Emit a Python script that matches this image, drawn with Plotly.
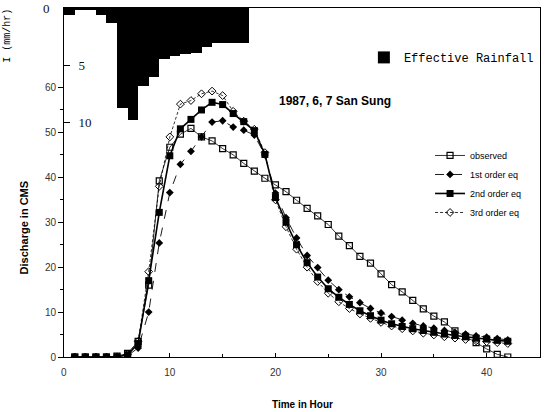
import plotly.graph_objects as go

# ---------------- data ----------------
hours = list(range(1, 43))

observed = [0, 0, 0, 0, 0.2, 0.8, 3.5, 16, 39.2, 46.7, 49.6, 50.9, 49.0, 48.1, 46.4, 45.0,
            43.1, 41.4, 39.8, 38.3, 36.8, 34.9, 33.1, 31.4, 29.5, 26.9, 24.8, 22.4, 20.9,
            18.5, 16.1, 14.5, 12.6, 10.7, 9.1, 7.8, 5.8, 4.6, 3.2, 1.8, 0.6, 0.0]

first_order = [0, 0, 0, 0, 0, 0.3, 2.0, 10, 25.4, 36.6, 42.9, 45.8, 49.0, 52.3, 52.6, 51.2,
               50.5, 49.4, 45.0, 36.5, 31.0, 26.5, 22.6, 19.9, 17.1, 15.0, 13.4, 12.1, 10.8,
               9.8, 9.0, 8.2, 7.5, 6.9, 6.4, 5.9, 5.5, 5.1, 4.7, 4.4, 4.1, 3.8]

second_order = [0, 0, 0, 0, 0, 0.5, 3.0, 17, 32.2, 44.8, 50.8, 52.9, 55.0, 56.7, 56.2, 54.2,
                52.4, 50.4, 45.1, 35.5, 30.0, 25.0, 21.0, 17.8, 15.2, 13.3, 11.7, 10.3, 9.2,
                8.2, 7.4, 6.8, 6.3, 5.9, 5.5, 5.1, 4.8, 4.5, 4.2, 4.0, 3.7, 3.5]

third_order = [0, 0, 0, 0, 0, 0.6, 3.5, 19, 38.0, 49.0, 56.3, 57.1, 58.6, 59.2, 58.2, 54.7,
               52.5, 50.7, 45.5, 35.0, 29.0, 24.0, 20.0, 16.8, 14.2, 12.3, 10.8, 9.6, 8.6,
               7.7, 6.9, 6.3, 5.8, 5.3, 4.9, 4.5, 4.2, 3.9, 3.6, 3.4, 3.2, 3.0]

rain_start = [0, 1, 2, 3, 4, 5, 6, 7, 8, 9, 10, 11, 12, 13, 14, 15, 16, 17]
rain_duration = [1] * 17 + [0.5]
rain_value = [0.6, 0.1, 0.2, 0.6, 1.3, 8.7, 9.8, 6.8, 6.0, 4.5, 4.2, 4.0, 3.9, 3.4,
              3.1, 3.1, 3.1, 3.1]

q_ticks = [0, 10, 20, 30, 40, 50, 60]
q_minor = [5, 15, 25, 35, 45, 55]
t_ticks = [0, 10, 20, 30, 40]
t_minor = [5, 15, 25, 35]
rain_ticks = [5, 10]

# ---------------- figure ----------------
fig = go.Figure()

rain_center = [s + d / 2 for s, d in zip(rain_start, rain_duration)]
fig.add_trace(go.Bar(
    x=rain_center, y=rain_value, width=rain_duration, yaxis="y2",
    marker=dict(color="black", line=dict(width=0)),
    name="Effective Rainfall", legend="legend2", showlegend=True,
))

fig.add_trace(go.Scatter(
    x=hours, y=observed, mode="lines+markers", name="observed",
    line=dict(color="black", width=0.8),
    marker=dict(symbol="square-open", size=6, color="black", line=dict(width=1.2)),
))
fig.add_trace(go.Scatter(
    x=hours, y=first_order, mode="lines+markers", name="1st order eq",
    line=dict(color="black", width=0.9, dash="dash"),
    marker=dict(symbol="diamond", size=6, color="black"),
))
fig.add_trace(go.Scatter(
    x=hours, y=second_order, mode="lines+markers", name="2nd order eq",
    line=dict(color="black", width=1.6),
    marker=dict(symbol="square", size=7, color="black"),
))
fig.add_trace(go.Scatter(
    x=hours, y=third_order, mode="lines+markers", name="3rd order eq",
    line=dict(color="black", width=0.8, dash="3px,2px"),
    marker=dict(symbol="diamond-open", size=6, color="black", line=dict(width=1)),
))

tickfont = dict(family="Liberation Sans, Arial, sans-serif", size=10, color="#333333")

fig.update_layout(
    width=547, height=412,
    margin=dict(l=64, r=7, t=8, b=55),
    paper_bgcolor="white", plot_bgcolor="white",
    bargap=0,
    xaxis=dict(
        range=[-0.02, 45.05], tickvals=t_ticks, ticks="inside", ticklen=4,
        tickwidth=1, tickcolor="black", showline=True, linecolor="black",
        linewidth=1, mirror=True, showgrid=False, zeroline=False, tickfont=tickfont,
        ticklabelstandoff=6,
        minor=dict(tickvals=t_minor, ticks="inside", ticklen=3, tickcolor="black"),
    ),
    yaxis=dict(
        range=[0, 77.7], tickvals=q_ticks, ticks="outside", ticklen=5,
        tickwidth=1, tickcolor="black", showline=True, linecolor="black",
        linewidth=1, mirror=True, showgrid=False, zeroline=False, tickfont=tickfont,
        minor=dict(tickvals=q_minor, ticks="outside", ticklen=3, tickcolor="black"),
    ),
    yaxis2=dict(
        range=[30.5, 0], overlaying="y", anchor="x", side="left",
        tickvals=rain_ticks, ticks="inside", ticklen=6, tickcolor="black",
        ticklabelposition="inside", ticklabelstandoff=8,
        showline=False, showgrid=False, zeroline=False,
        tickfont=dict(family="Liberation Serif, serif", size=13, color="#111111"),
    ),
    legend=dict(
        x=0.769, y=0.619, xanchor="left", yanchor="top",
        font=dict(family="Liberation Sans Narrow, Liberation Sans, sans-serif", size=9, color="black"),
        bgcolor="rgba(0,0,0,0)", itemwidth=30, tracegroupgap=0,
        traceorder="normal",
    ),
    legend2=dict(
        x=0.63, y=0.9, xanchor="left", yanchor="top",
        font=dict(family="Liberation Mono, monospace", size=12, color="black"),
        bgcolor="rgba(0,0,0,0)", itemwidth=30,
    ),
    showlegend=True,
)

fig.add_annotation(
    text="1987, 6, 7 San Sung", xref="paper", yref="paper", x=0.569, y=0.733,
    xanchor="center", yanchor="middle", showarrow=False,
    font=dict(family="Liberation Sans, Arial, sans-serif", size=12, color="black", weight="bold"),
)
fig.add_annotation(
    text="Discharge in CMS", xref="paper", yref="paper", x=-0.085, y=0.37,
    xanchor="center", yanchor="middle", textangle=-90, showarrow=False,
    font=dict(family="Liberation Sans, Arial, sans-serif", size=11, color="black", weight="bold"),
)
fig.add_annotation(
    text="I (mm/hr)", xref="paper", yref="paper", x=-0.118, y=0.92,
    xanchor="center", yanchor="middle", textangle=-90, showarrow=False,
    font=dict(family="Liberation Mono, monospace", size=10, color="black"),
)
fig.add_annotation(
    text="Time in Hour", xref="paper", yref="paper", x=0.5, y=-0.135,
    xanchor="center", yanchor="middle", showarrow=False,
    font=dict(family="Liberation Sans, Arial, sans-serif", size=10, color="black", weight="bold"),
)
fig.add_annotation(
    text="0", xref="paper", yref="y2", x=-0.036, y=0, xanchor="center", yanchor="middle",
    showarrow=False, font=dict(family="Liberation Serif, serif", size=13, color="#111111"),
)
fig.add_annotation(
    text="0", xref="x", yref="paper", x=0, y=-0.043, xanchor="center", yanchor="middle",
    showarrow=False, font=tickfont,
)

fig.write_html("out.html")
